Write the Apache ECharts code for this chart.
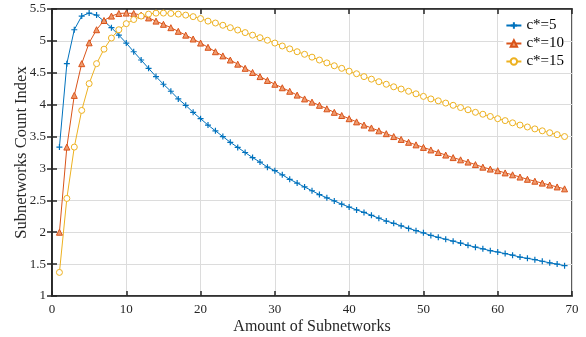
<!DOCTYPE html>
<html>
<head>
<meta charset="utf-8">
<script src="https://cdn.jsdelivr.net/npm/echarts@6/dist/echarts.min.js"></script>
<style>
html, body { margin: 0; padding: 0; background: #fff; }
#chart { width: 586px; height: 337px; }
</style>
</head>
<body>
<div id="chart"></div>
<script>
// values, one per subnetwork count 1..69
const counts = [];
for (let i = 1; i <= 69; i++) counts.push(i);

const c5 = [
    3.335, 4.643, 5.175, 5.389, 5.436, 5.404, 5.31, 5.207, 5.09, 4.966,
    4.83, 4.70, 4.57, 4.44, 4.32, 4.21, 4.09, 3.99, 3.88, 3.78,
    3.68, 3.59, 3.50, 3.41, 3.33, 3.25, 3.17, 3.10, 3.02, 2.965,
    2.90, 2.83, 2.77, 2.71, 2.65, 2.59, 2.54, 2.49, 2.44, 2.395,
    2.35, 2.31, 2.265, 2.22, 2.175, 2.14, 2.10, 2.06, 2.025, 1.99,
    1.95, 1.92, 1.89, 1.86, 1.83, 1.795, 1.765, 1.74, 1.71, 1.69,
    1.665, 1.64, 1.61, 1.59, 1.57, 1.545, 1.52, 1.50, 1.475
];

const c10 = [
    2.0, 3.335, 4.145, 4.643, 4.97, 5.175, 5.32, 5.389, 5.43, 5.436,
    5.43, 5.404, 5.36, 5.31, 5.26, 5.207, 5.15, 5.09, 5.03, 4.966,
    4.90, 4.83, 4.765, 4.70, 4.635, 4.57, 4.505, 4.44, 4.38, 4.32,
    4.265, 4.21, 4.15, 4.09, 4.04, 3.99, 3.935, 3.88, 3.83, 3.78,
    3.73, 3.68, 3.635, 3.59, 3.545, 3.50, 3.455, 3.41, 3.37, 3.33,
    3.29, 3.25, 3.21, 3.17, 3.135, 3.10, 3.06, 3.02, 2.99, 2.965,
    2.93, 2.90, 2.865, 2.83, 2.80, 2.77, 2.74, 2.71, 2.68
];

const c15 = [
    1.37, 2.53, 3.335, 3.91, 4.33, 4.643, 4.87, 5.045, 5.175, 5.27,
    5.335, 5.389, 5.42, 5.435, 5.436, 5.43, 5.42, 5.404, 5.38, 5.35,
    5.31, 5.28, 5.245, 5.207, 5.17, 5.13, 5.09, 5.05, 5.01, 4.966,
    4.92, 4.875, 4.83, 4.79, 4.745, 4.70, 4.655, 4.61, 4.57, 4.525,
    4.485, 4.44, 4.40, 4.36, 4.32, 4.28, 4.245, 4.21, 4.17, 4.13,
    4.09, 4.06, 4.025, 3.99, 3.955, 3.92, 3.88, 3.85, 3.815, 3.78,
    3.75, 3.715, 3.68, 3.65, 3.62, 3.59, 3.56, 3.53, 3.50
];

const seriesNames = ["c*=5", "c*=10", "c*=15"];
const colors = ["#0072BD", "#D95319", "#EDB120"];

const font = "'Liberation Serif', 'Times New Roman', serif";
const plusPath = "path://M5,0L5,10M0,5L10,5";

function pairs(vals) {
    return vals.map((v, i) => [counts[i], v]);
}

const chart = echarts.init(document.getElementById("chart"));

chart.setOption({
    animation: false,
    grid: {
        left: 52,
        right: 14,
        top: 9,
        bottom: 41,
        outerBoundsMode: "none",
        containLabel: false,
        show: true,
        borderColor: "#262626",
        borderWidth: 1.5
    },
    legend: {
        right: 22,
        top: 16,
        orient: "vertical",
        itemWidth: 15,
        itemHeight: 8,
        itemGap: 3,
        backgroundColor: "#fff",
        padding: [2, 0, 2, 2],
        textStyle: { fontFamily: font, fontSize: 15, color: "#000" },
        data: seriesNames
    },
    xAxis: [
        {
            type: "value",
            min: 0,
            max: 70,
            interval: 10,
            name: "Amount of Subnetworks",
            nameLocation: "middle",
            nameGap: 23,
            nameMoveOverlap: false,
            nameTextStyle: { fontFamily: font, fontSize: 16, color: "#262626" },
            axisLine: { show: true, onZero: false, lineStyle: { color: "#262626", width: 1.5 } },
            axisTick: { show: true, inside: true, length: 5, lineStyle: { color: "#262626", width: 1.5 } },
            axisLabel: { fontFamily: font, fontSize: 13, color: "#262626", margin: 7 },
            splitLine: { show: true, lineStyle: { color: "#dcdcdc", width: 1 } }
        },
        {
            type: "value",
            position: "top",
            min: 0,
            max: 70,
            interval: 10,
            axisLine: { show: true, lineStyle: { color: "#262626", width: 1.5 } },
            axisTick: { show: true, inside: true, length: 5, lineStyle: { color: "#262626", width: 1.5 } },
            axisLabel: { show: false },
            splitLine: { show: false }
        }
    ],
    yAxis: [
        {
            type: "value",
            min: 1,
            max: 5.5,
            interval: 0.5,
            name: "Subnetworks Count Index",
            nameLocation: "middle",
            nameGap: 22,
            nameMoveOverlap: false,
            nameTextStyle: { fontFamily: font, fontSize: 16.5, color: "#262626" },
            axisLine: { show: true, lineStyle: { color: "#262626", width: 1.5 } },
            axisTick: { show: true, inside: true, length: 5, lineStyle: { color: "#262626", width: 1.5 } },
            axisLabel: { fontFamily: font, fontSize: 13, color: "#262626", margin: 6 },
            splitLine: { show: true, lineStyle: { color: "#dcdcdc", width: 1 } }
        },
        {
            type: "value",
            position: "right",
            min: 1,
            max: 5.5,
            interval: 0.5,
            axisLine: { show: true, lineStyle: { color: "#262626", width: 1.5 } },
            axisTick: { show: true, inside: true, length: 5, lineStyle: { color: "#262626", width: 1.5 } },
            axisLabel: { show: false },
            splitLine: { show: false }
        }
    ],
    series: [
        {
            name: seriesNames[0],
            type: "line",
            data: pairs(c5),
            symbol: plusPath,
            symbolSize: 6,
            lineStyle: { color: colors[0], width: 1 },
            itemStyle: { color: colors[0], borderColor: colors[0], borderWidth: 1.2 }
        },
        {
            name: seriesNames[1],
            type: "line",
            data: pairs(c10),
            symbol: "triangle",
            symbolSize: 6,
            lineStyle: { color: colors[1], width: 1 },
            itemStyle: { color: "#ee9a6e", borderColor: colors[1], borderWidth: 1 }
        },
        {
            name: seriesNames[2],
            type: "line",
            data: pairs(c15),
            symbol: "circle",
            symbolSize: 6,
            lineStyle: { color: colors[2], width: 1 },
            itemStyle: { color: "#fff", borderColor: colors[2], borderWidth: 1 }
        }
    ]
});
</script>
</body>
</html>
